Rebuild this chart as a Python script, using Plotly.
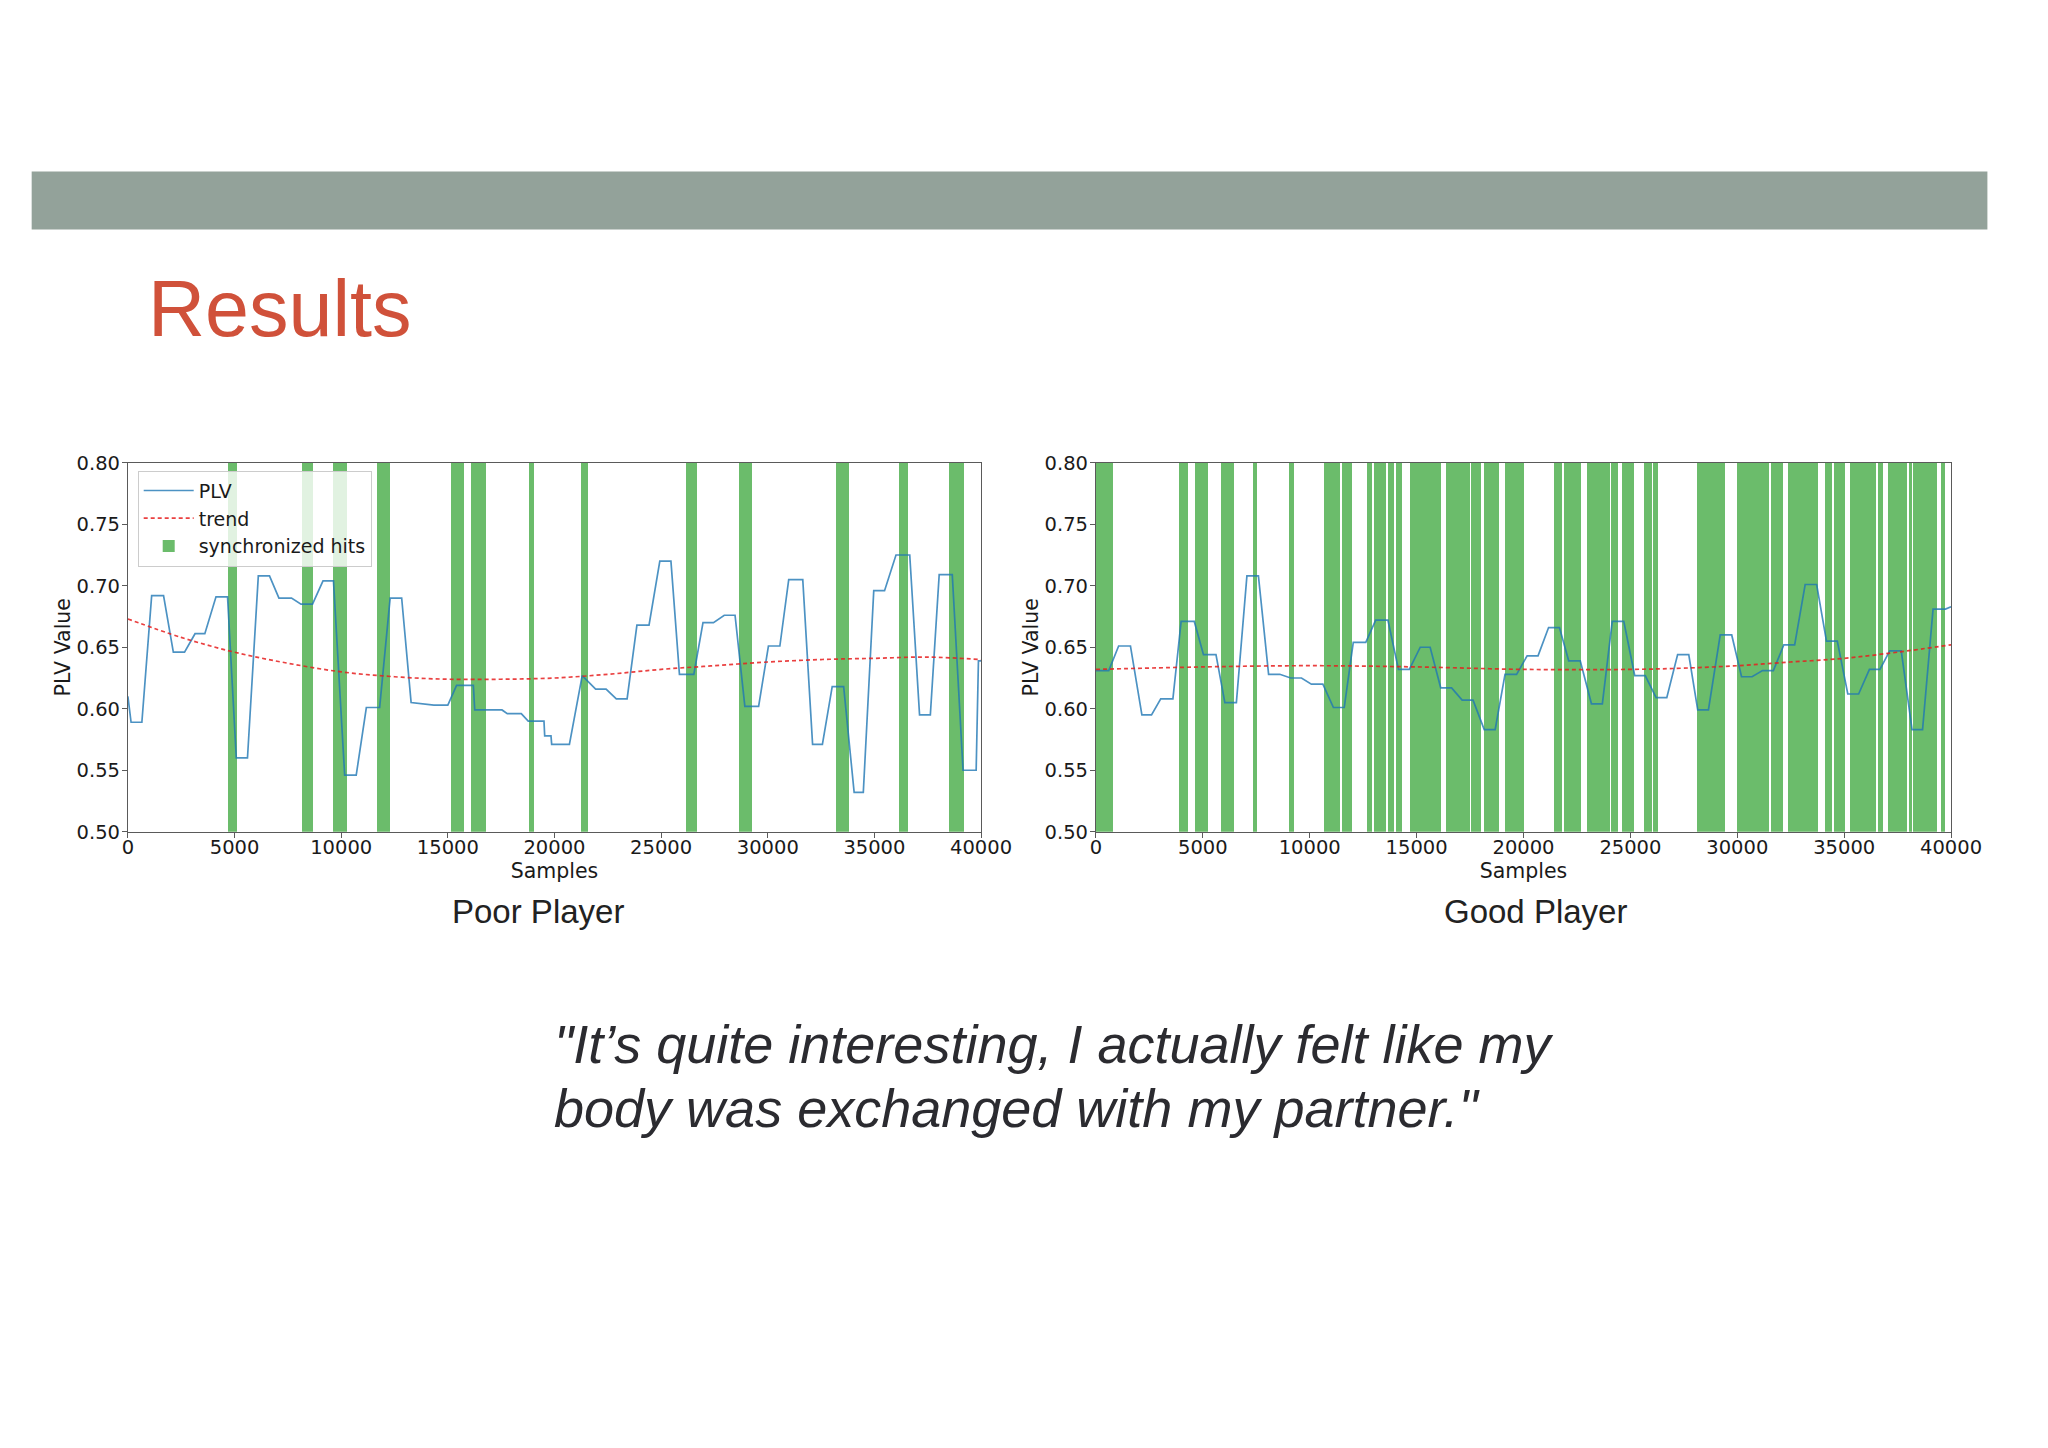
import plotly.graph_objects as go

# page is 2048x1448 with the browser's 8px body margin round the figure
OFF = 8
FIG_W, FIG_H = 2048 - 2 * OFF, 1448 - 2 * OFF

# ---- data ----
poor_x = [0, 150, 656, 1115, 1672, 2131, 2656, 3148, 3607, 4131,
          4672, 5082, 5607, 6115, 6639, 7082, 7672, 8115, 8656, 9148,
          9639, 10164, 10705, 11180, 11803, 12295, 12836, 13279, 14344, 15000,
          15410, 16197, 16262, 17541, 17787, 18443, 18770, 19508, 19541, 19836,
          19869, 20700, 21300, 21930, 22420, 22899, 23405, 23865, 24433, 24939,
          25460, 25859, 26534, 26963, 27454, 27960, 28466, 28926, 29571, 30031,
          30567, 30982, 31641, 32101, 32561, 33021, 33558, 34049, 34479, 34969,
          35475, 36012, 36656, 37116, 37622, 38037, 38650, 39156, 39770, 39877,
          40000]
poor_plv = [0.610, 0.589, 0.589, 0.692, 0.692, 0.646, 0.646, 0.661, 0.661, 0.691,
            0.691, 0.560, 0.560, 0.708, 0.708, 0.690, 0.690, 0.685, 0.685, 0.704,
            0.704, 0.546, 0.546, 0.601, 0.601, 0.690, 0.690, 0.605, 0.603, 0.603,
            0.619, 0.619, 0.599, 0.599, 0.596, 0.596, 0.590, 0.590, 0.578, 0.578,
            0.571, 0.571, 0.627, 0.616, 0.616, 0.608, 0.608, 0.668, 0.668, 0.720,
            0.720, 0.628, 0.628, 0.670, 0.670, 0.676, 0.676, 0.602, 0.602, 0.651,
            0.651, 0.705, 0.705, 0.571, 0.571, 0.618, 0.618, 0.532, 0.532, 0.696,
            0.696, 0.725, 0.725, 0.595, 0.595, 0.709, 0.709, 0.550, 0.550, 0.639,
            0.639]
poor_trend_x = [0, 2500, 5000, 7500, 10000, 12500, 15000, 17500, 20000,
                22500, 25000, 27500, 30000, 32500, 35000, 37500, 40000]
poor_trend = [0.673, 0.658, 0.646, 0.637, 0.630, 0.626, 0.624, 0.624, 0.625,
              0.628, 0.632, 0.635, 0.638, 0.640, 0.641, 0.642, 0.640]
poor_hit_start = [4672, 8148, 9590, 11672, 15164, 16066, 18803, 21230,
                  26150, 28650, 33206, 36135, 38497]
poor_hit_end = [5115, 8689, 10246, 12262, 15738, 16770, 19016, 21560,
                26656, 29233, 33788, 36549, 39187]

good_x = [0, 600, 1062, 1615, 2150, 2600, 3031, 3600, 3985, 4600,
          5031, 5615, 6031, 6569, 7062, 7600, 8077, 8600, 9108, 9615,
          10077, 10615, 11108, 11615, 12037, 12623, 13086, 13657, 14151, 14660,
          15170, 15633, 16127, 16636, 17130, 17639, 18164, 18673, 19136, 19676,
          20170, 20679, 21173, 21682, 22114, 22654, 23179, 23688, 24151, 24691,
          25201, 25694, 26204, 26702, 27209, 27730, 28150, 28650, 29202, 29739,
          30199, 30690, 31181, 31687, 32178, 32684, 33175, 33712, 34172, 34678,
          35169, 35675, 36181, 36672, 37132, 37669, 38175, 38666, 39157, 39739,
          40000]
good_plv = [0.631, 0.631, 0.651, 0.651, 0.595, 0.595, 0.608, 0.608, 0.671, 0.671,
            0.644, 0.644, 0.605, 0.605, 0.708, 0.708, 0.628, 0.628, 0.625, 0.625,
            0.620, 0.620, 0.601, 0.601, 0.654, 0.654, 0.672, 0.672, 0.632, 0.632,
            0.650, 0.650, 0.617, 0.617, 0.607, 0.607, 0.583, 0.583, 0.628, 0.628,
            0.643, 0.643, 0.666, 0.666, 0.639, 0.639, 0.604, 0.604, 0.671, 0.671,
            0.627, 0.627, 0.609, 0.609, 0.644, 0.644, 0.599, 0.599, 0.660, 0.660,
            0.626, 0.626, 0.631, 0.631, 0.652, 0.652, 0.701, 0.701, 0.655, 0.655,
            0.612, 0.612, 0.632, 0.632, 0.647, 0.647, 0.583, 0.583, 0.681, 0.681,
            0.683]
good_trend_x = [0, 5000, 10000, 15000, 20000, 25000, 27500, 30000,
                32500, 35000, 37500, 40000]
good_trend = [0.632, 0.634, 0.635, 0.634, 0.632, 0.632, 0.633, 0.635,
              0.638, 0.641, 0.646, 0.652]
good_hit_start = [0, 3877, 4646, 5846, 7338, 9031, 10677, 11523, 12654, 13009,
                  13657, 14043, 14707, 16358, 17546, 18164, 19136, 21420, 21914,
                  22966, 24098, 24618, 25650, 26060, 28100, 29969, 31564, 32377,
                  34095, 34525, 35291, 36564, 37055, 38006, 38206, 39540]
good_hit_end = [800, 4292, 5231, 6462, 7554, 9277, 11415, 11991, 12917, 13580,
                13935, 14321, 16127, 17485, 18025, 18873, 20015, 21806, 22685,
                24037, 24419, 25153, 26000, 26300, 29420, 31457, 32117, 33758,
                34448, 35031, 36488, 36794, 37929, 38175, 39356, 39693]

x_ticks = [0, 5000, 10000, 15000, 20000, 25000, 30000, 35000, 40000]
x_tick_text = ['0', '5000', '10000', '15000', '20000', '25000', '30000',
               '35000', '40000']
y_ticks = [0.50, 0.55, 0.60, 0.65, 0.70, 0.75, 0.80]

TICK_FONT = dict(family='DejaVu Sans', size=19.5, color='#1a1a1a')
LABEL_FONT = dict(family='DejaVu Sans', size=20.5, color='#1a1a1a')
LINE_COL = 'rgba(31,119,180,0.8)'
TREND_COL = 'rgba(230,30,30,0.85)'
HIT_COL = 'rgba(44,160,44,0.7)'
AX_COL = '#5a5a5a'


def px_x(v):
    # v: pixel column on the 2048-wide slide
    return (v - OFF) / FIG_W


def px_y(v):
    return 1 - (v - OFF) / FIG_H


fig = go.Figure()


def add_panel(xs, ys, tx, ty, hs, he, xa, ya, legend):
    fig.add_trace(go.Scatter(
        x=xs, y=ys, mode='lines', name='PLV', xaxis=xa, yaxis=ya,
        line=dict(color=LINE_COL, width=1.7), showlegend=legend))
    fig.add_trace(go.Scatter(
        x=tx, y=ty, mode='lines', name='trend', xaxis=xa, yaxis=ya,
        line=dict(color=TREND_COL, width=1.7, dash='4px,3px'),
        line_shape='spline', showlegend=legend))
    # synchronized hits as vertical bands spanning the whole y range
    fig.add_trace(go.Bar(
        x=[(a + b) / 2 for a, b in zip(hs, he)],
        width=[b - a for a, b in zip(hs, he)],
        y=[y_ticks[-1] - y_ticks[0]] * len(hs), base=y_ticks[0],
        name='synchronized hits', xaxis=xa, yaxis=ya,
        marker=dict(color=HIT_COL, line=dict(width=0)),
        showlegend=legend, hoverinfo='skip'))


add_panel(poor_x, poor_plv, poor_trend_x, poor_trend,
          poor_hit_start, poor_hit_end, 'x', 'y', True)
add_panel(good_x, good_plv, good_trend_x, good_trend,
          good_hit_start, good_hit_end, 'x2', 'y2', False)

ydom = [px_y(834), px_y(459)]
xcommon = dict(range=[0, 40000], tickvals=x_ticks, ticktext=x_tick_text,
               ticks='outside', ticklen=5, tickcolor=AX_COL, showline=True,
               linecolor=AX_COL, linewidth=1, mirror=True, showgrid=False,
               zeroline=False, tickfont=TICK_FONT, ticklabelstandoff=-7,
               title=dict(text='Samples', font=LABEL_FONT, standoff=0))
ycommon = dict(range=[0.5, 0.8], tickvals=y_ticks, tickformat='.2f',
               ticks='outside', ticklen=5, tickcolor=AX_COL, showline=True,
               linecolor=AX_COL, linewidth=1, mirror=True, showgrid=False,
               zeroline=False, tickfont=TICK_FONT, ticklabelstandoff=-2,
               title=dict(text='PLV Value', font=LABEL_FONT, standoff=0))

fig.update_layout(
    width=FIG_W, height=FIG_H, margin=dict(l=0, r=0, t=0, b=0),
    paper_bgcolor='white', plot_bgcolor='white', barmode='overlay', bargap=0,
    xaxis=dict(domain=[px_x(124), px_x(993)], anchor='y', **xcommon),
    yaxis=dict(domain=ydom, anchor='x', **ycommon),
    xaxis2=dict(domain=[px_x(1110), px_x(1981)], anchor='y2', **xcommon),
    yaxis2=dict(domain=ydom, anchor='x2', **ycommon),
    legend=dict(x=px_x(134), y=px_y(467), xanchor='left', yanchor='top',
                bgcolor='rgba(255,255,255,0.8)', bordercolor='#cccccc',
                borderwidth=1, font=dict(family='DejaVu Sans', size=19,
                                         color='#1a1a1a'),
                traceorder='normal', itemwidth=50, tracegroupgap=0),
    showlegend=True,
    shapes=[dict(type='rect', xref='paper', yref='paper',
                 x0=px_x(26), x1=px_x(2018), y0=px_y(222), y1=px_y(163),
                 fillcolor='#93a29a', line=dict(width=0), layer='below')],
)

SANS = 'Liberation Sans, Arial, sans-serif'
fig.add_annotation(x=px_x(142), y=px_y(302), xref='paper', yref='paper',
                   text='Results', showarrow=False, xanchor='left',
                   yanchor='middle',
                   font=dict(family=SANS, size=79, color='#d0513a'))
fig.add_annotation(x=px_x(542), y=px_y(915), xref='paper', yref='paper',
                   text='Poor Player', showarrow=False, xanchor='center',
                   yanchor='middle',
                   font=dict(family=SANS, size=33, color='#222222'))
fig.add_annotation(x=px_x(1558), y=px_y(915), xref='paper', yref='paper',
                   text='Good Player', showarrow=False, xanchor='center',
                   yanchor='middle',
                   font=dict(family=SANS, size=33, color='#222222'))
quote_lines = ['"It\u2019s quite interesting, I actually felt like my',
               'body was exchanged with my partner."']
for line, yc in zip(quote_lines, [1050, 1115]):
    fig.add_annotation(x=px_x(556), y=px_y(yc), xref='paper', yref='paper',
                       text='<i>' + line + '</i>', showarrow=False,
                       xanchor='left', yanchor='middle',
                       font=dict(family=SANS, size=54, color='#2b2b30'))

fig.write_html("out.html")
